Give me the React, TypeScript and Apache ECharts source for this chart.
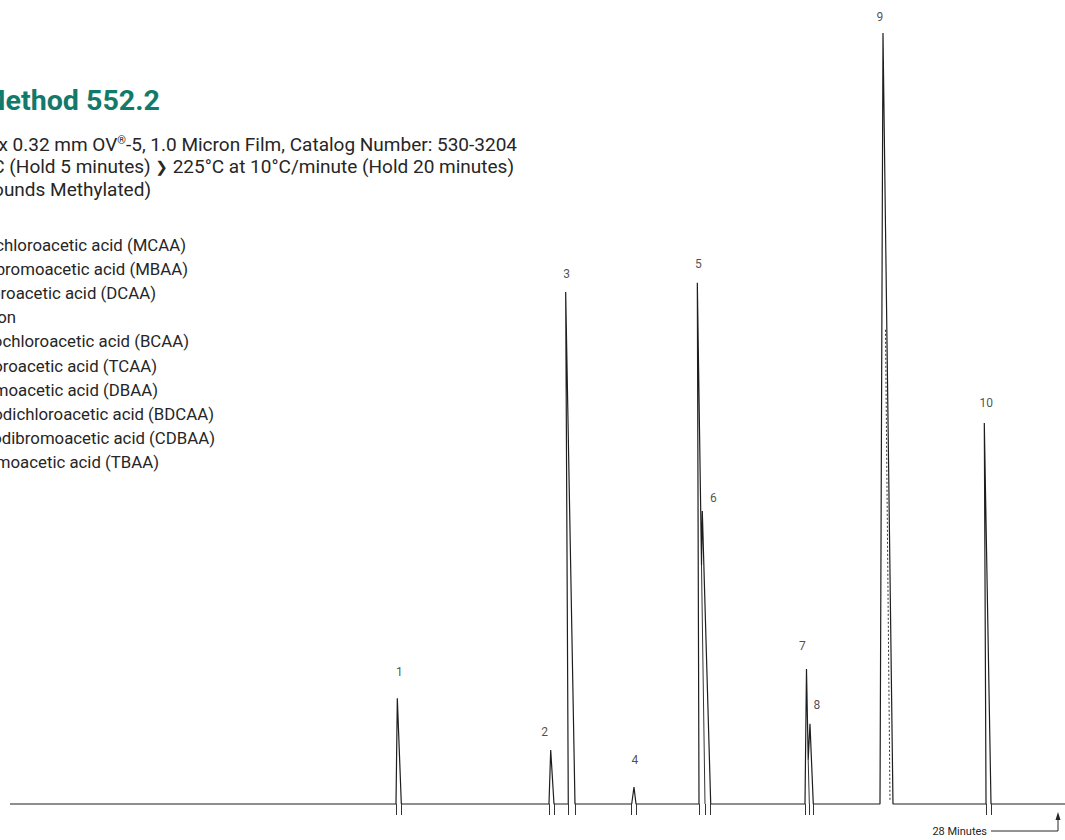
import React, { useEffect, useRef } from "react";
import * as echarts from "echarts";

// Chromatogram trace vertices (retention time in minutes, detector response in % of peak 9)
const traceTimes = [
  0, 10.318, 10.353, 10.46, 14.407, 14.453, 14.541, 14.923, 14.853, 15.102,
  16.618, 16.679, 16.733, 18.417, 18.372, 18.484, 18.505, 18.73, 21.25, 21.29,
  21.336, 21.383, 21.472, 23.255, 23.335, 23.602, 26.089, 26.043, 26.222, 28.2,
];
const traceValues = [
  0, 0, 13.7, 0, 0, 7.0, 0, 0, 66.4, 0,
  0, 2.2, 0, 0, 67.6, 31, 38.0, 0, 0, 17.5,
  5.7, 10.4, 0, 0, 100, 0, 0, 49.4, 0, 0,
];

// Peak numbers and apexes
const peakNumbers = ["1", "2", "3", "4", "5", "6", "7", "8", "9", "10"];
const peakTimes = [10.353, 14.453, 14.853, 16.679, 18.372, 18.505, 21.29, 21.383, 23.335, 26.043];
const peakHeights = [13.7, 7.0, 66.4, 2.2, 67.6, 38.0, 17.5, 10.4, 100, 49.4];

// Integration marks below the baseline (minutes)
const integrationMarks = [
  10.318, 10.46, 14.407, 14.541, 14.923, 15.102, 16.618, 16.733, 18.417, 18.577,
  18.73, 21.25, 21.366, 21.472, 26.089, 26.222,
];

// Valley drop lines for the unresolved pairs 5/6 and 7/8: [time, value] start -> end
const valleyDropStartTimes = [18.484, 21.336];
const valleyDropStartValues = [31, 5.7];
const valleyDropEndTimes = [18.577, 21.366];

// Inner dashed pen trace of peak 9: [time, value] endpoints
const peak9InnerTimes = [23.402, 23.522];
const peak9InnerValues = [61.5, 0.5];

const compoundNames = [
  "1. Monochloroacetic acid (MCAA)",
  "2. Monobromoacetic acid (MBAA)",
  "3. Dichloroacetic acid (DCAA)",
  "4. Dalapon",
  "5. Bromochloroacetic acid (BCAA)",
  "6. Trichloroacetic acid (TCAA)",
  "7. Dibromoacetic acid (DBAA)",
  "8. Bromodichloroacetic acid (BDCAA)",
  "9. Chlorodibromoacetic acid (CDBAA)",
  "10. Tribromoacetic acid (TBAA)",
];

const titleText = "Method 552.2";
const conditionLines = [
  "30 m x 0.32 mm OV{r|®}-5, 1.0 Micron Film, Catalog Number: 530-3204",
  "Oven: 40°C (Hold 5 minutes) {b|❯} 225°C at 10°C/minute (Hold 20 minutes)",
  "(Compounds Methylated)",
];
const axisNote = "28 Minutes";

// styling (label offsets in px, relative to apex)
const labelOffsets = [
  [2, -26], [-6, -18], [1, -18], [1, -27], [1, -19],
  [11, -13], [-4, -23], [7, -19], [-3, -16], [2, -20],
];
const conditionRightEdges = [517, 514, 151];
const nameRightEdges = [186, 188, 156, 16, 189, 157, 158, 214, 215, 159];

const FONT = 'Roboto, "DejaVu Sans", sans-serif';
const INK = "#262626";

export default function App() {
  const ref = useRef<HTMLDivElement>(null);

  useEffect(() => {
    if (!ref.current) return;
    const chart = echarts.init(ref.current, undefined, { renderer: "svg" });

    const trace = traceTimes.map((t, i) => [t, traceValues[i]]);
    const labels = peakTimes.map((t, i) => ({
      value: [t, peakHeights[i]],
      name: peakNumbers[i],
      label: { offset: labelOffsets[i] },
    }));
    const tickLines: any[] = integrationMarks.map((t) => [
      { coord: [t, 0] },
      { coord: [t, -1.43] },
    ]);
    valleyDropStartTimes.forEach((t, i) => {
      tickLines.push([
        { coord: [t, valleyDropStartValues[i]] },
        { coord: [valleyDropEndTimes[i], 0] },
      ]);
    });

    const graphics: any[] = [];
    graphics.push({
      type: "text",
      x: 160,
      y: 101,
      scaleX: 1.06,
      style: {
        text: titleText,
        fill: "#117a6b",
        font: `bold 27px ${FONT}`,
        align: "right",
        verticalAlign: "middle",
      },
    });
    conditionLines.forEach((line, i) => {
      graphics.push({
        type: "text",
        x: conditionRightEdges[i],
        y: 144 + i * 22.5,
        style: {
          text: line,
          fill: INK,
          font: `19px ${FONT}`,
          align: "right",
          verticalAlign: "middle",
          rich: {
            r: { fontSize: 11, fontFamily: FONT, fill: INK, verticalAlign: "top", padding: [0, 0, 7, 0] },
            b: { fontSize: 15, fontFamily: '"DejaVu Sans", sans-serif', fontWeight: "bold", fill: INK },
          },
        },
      });
    });
    compoundNames.forEach((name, i) => {
      graphics.push({
        type: "text",
        x: nameRightEdges[i],
        y: 245 + i * 24.1,
        style: {
          text: name,
          fill: INK,
          font: `16.8px ${FONT}`,
          align: "right",
          verticalAlign: "middle",
        },
      });
    });
    // "28 Minutes" note with arrow
    graphics.push({
      type: "text",
      x: 987,
      y: 831,
      style: { text: axisNote, fill: INK, font: `11px ${FONT}`, align: "right", verticalAlign: "middle" },
    });
    graphics.push({
      type: "polyline",
      shape: { points: [[991, 831], [1058, 831], [1058, 818]] },
      style: { stroke: INK, lineWidth: 1, fill: "none" },
    });
    graphics.push({
      type: "polygon",
      shape: { points: [[1055.5, 820], [1060.5, 820], [1058, 812]] },
      style: { fill: INK },
    });

    chart.setOption({
      animation: false,
      backgroundColor: "#ffffff",
      grid: { left: 10, right: 0, top: 33, bottom: 20.6 },
      xAxis: { type: "value", min: 0, max: 28.2, show: false },
      yAxis: { type: "value", min: -2, max: 100, show: false },
      graphic: graphics,
      series: [
        {
          type: "line",
          data: trace,
          symbol: "none",
          lineStyle: { color: "#1e1e1e", width: 1.2 },
          z: 3,
          markLine: {
            silent: true,
            symbol: "none",
            label: { show: false },
            lineStyle: { color: "#333", width: 1, type: "solid" },
            data: tickLines,
          },
        },
        {
          type: "line",
          data: peak9InnerTimes.map((t, i) => [t, peak9InnerValues[i]]),
          symbol: "none",
          lineStyle: { color: "#333", width: 1, type: [2, 2] },
          z: 2,
        },
        {
          type: "scatter",
          data: labels,
          symbolSize: 1,
          itemStyle: { color: "transparent" },
          label: {
            show: true,
            position: "inside",
            formatter: "{b}",
            color: "#1e1e1e",
            fontSize: 12,
            fontFamily: FONT,
          },
          z: 4,
        },
      ],
    });

    return () => chart.dispose();
  }, []);

  return (
    <div
      ref={ref}
      style={{ position: "absolute", left: 0, top: 0, width: 1065, height: 840 }}
    />
  );
}
